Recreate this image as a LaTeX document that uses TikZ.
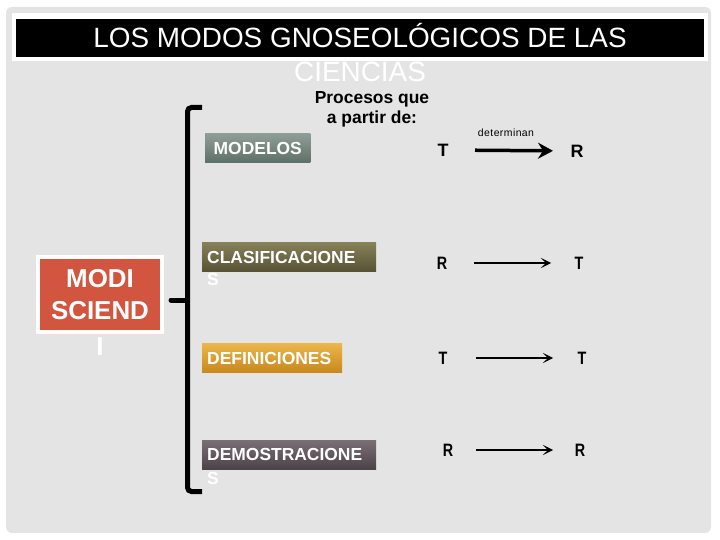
\documentclass[tikz,border=0pt]{standalone}
\usepackage{fontspec}
\setmainfont{Liberation Sans}
\usepackage{tikz}
\usetikzlibrary{arrows.meta}

\definecolor{fondo}{HTML}{E4E4E4}
\definecolor{rojo}{HTML}{D25540}
\definecolor{modA}{HTML}{8E9E96}
\definecolor{modB}{HTML}{5E6F67}
\definecolor{claA}{HTML}{878159}
\definecolor{claB}{HTML}{575234}
\definecolor{defA}{HTML}{EBB64A}
\definecolor{defB}{HTML}{C8881C}
\definecolor{demA}{HTML}{7A6F75}
\definecolor{demB}{HTML}{4C4349}

\tikzset{
  caja/.style={rectangle, anchor=west, text=white, inner xsep=5bp, inner ysep=8.25bp,
    text height=12.5bp, text depth=0bp, align=left,
    font=\bfseries\fontsize{17.5}{20}\selectfont},
  sobra/.style={anchor=base west, text=white, inner sep=0bp,
    font=\bfseries\fontsize{17.5}{20}\selectfont},
  letra/.style={inner sep=0bp, text height=13bp, text depth=0bp, xscale=.8, transform shape,
    font=\bfseries\fontsize{18}{20}\selectfont},
  flecha/.style={line width=1.6bp, -{Stealth[length=10bp,width=10bp,inset=5bp]}}
}

\begin{document}
\begin{tikzpicture}[x=1bp,y=-1bp]
\useasboundingbox (0,0) rectangle (720,540);

% fondo y titulo
\fill[fondo, rounded corners=6bp] (6,7) rectangle (711,533);
\fill[white] (12,13) rectangle (708,61);
\fill[black] (16,19) rectangle (704,57);
\node (titulo) at (360,48) [anchor=base, text=white, font=\fontsize{28}{32}\selectfont] {LOS MODOS GNOSEOLÓGICOS DE LAS};
\node (titulo2) at (360,82) [anchor=base, text=white, font=\fontsize{28}{32}\selectfont] {CIENCIAS};

\node (procesos) at (372,124) [anchor=base, align=center, font=\bfseries\fontsize{17.5}{21}\selectfont] {Procesos que\\ a partir de:};

% caja roja
\node (modi) at (100,294.5) [rectangle, fill=rojo, draw=white, line width=4bp,
  minimum width=124bp, minimum height=75bp, text width=124bp, align=center, inner sep=0bp,
  text=white, font=\bfseries\fontsize{26}{32}\selectfont] {MODI\\SCIEND};
\node (modi2) at (100,355) [anchor=base, text=white, inner sep=0bp, font=\bfseries\fontsize{26}{32}\selectfont] {I};

% llave
\coordinate (llave-a) at (202,107.5);
\coordinate (llave-b) at (202,491.5);
\coordinate (llave-m) at (187.5,300);
\coordinate (llave-p) at (171,300);
\draw[line width=5bp, rounded corners=4bp] (llave-a) -- (187.5,107.5) -- (187.5,491.5) -- (llave-b);
\draw[line width=5bp, line cap=round] (llave-m) -- (llave-p);

% procesos
\node (modelos) at (205,148.5) [caja, inner xsep=8.5bp, top color=modA, bottom color=modB] {MODELOS};
\node (clasif) at (202,257) [caja, text width=164bp, top color=claA, bottom color=claB] {CLASIFICACIONE};
\node (clasif-s) at (207,286) [sobra] {S};
\node (defin) at (202,358) [caja, text width=130bp, top color=defA, bottom color=defB] {DEFINICIONES};
\node (demos) at (202,454.5) [caja, text width=164bp, top color=demA, bottom color=demB] {DEMOSTRACIONE};
\node (demos-s) at (207,484) [sobra] {S};

% T y R
\node (t1) at (443,150) [inner sep=0bp, text height=13bp, text depth=0bp, font=\bfseries\fontsize{18}{20}\selectfont] {T};
\node (r1) at (577,151) [inner sep=0bp, text height=13bp, text depth=0bp, font=\bfseries\fontsize{18}{20}\selectfont] {R};
\node (det) at (506,137) [anchor=base, inner sep=0bp, font=\fontsize{10.5}{12}\selectfont\addfontfeature{LetterSpace=4}] {determinan};
\draw[line width=3.5bp, -{Stealth[length=15bp,width=16bp,inset=5bp]}, shorten <=32bp, shorten >=24bp] (t1.center) -- (r1.center);

\node (r2) at (442,263) [letra] {R};
\node (t2) at (579,263) [letra] {T};
\draw[flecha, shorten <=32bp, shorten >=28bp] (r2.center) -- (t2.center);

\node (t3) at (443,358) [letra] {T};
\node (t4) at (582,358) [letra] {T};
\draw[flecha, shorten <=33bp, shorten >=29bp] (t3.center) -- (t4.center);

\node (r3) at (448,450) [letra] {R};
\node (r4) at (580,450) [letra] {R};
\draw[flecha, shorten <=28bp, shorten >=27bp] (r3.center) -- (r4.center);
\end{tikzpicture}
\end{document}
